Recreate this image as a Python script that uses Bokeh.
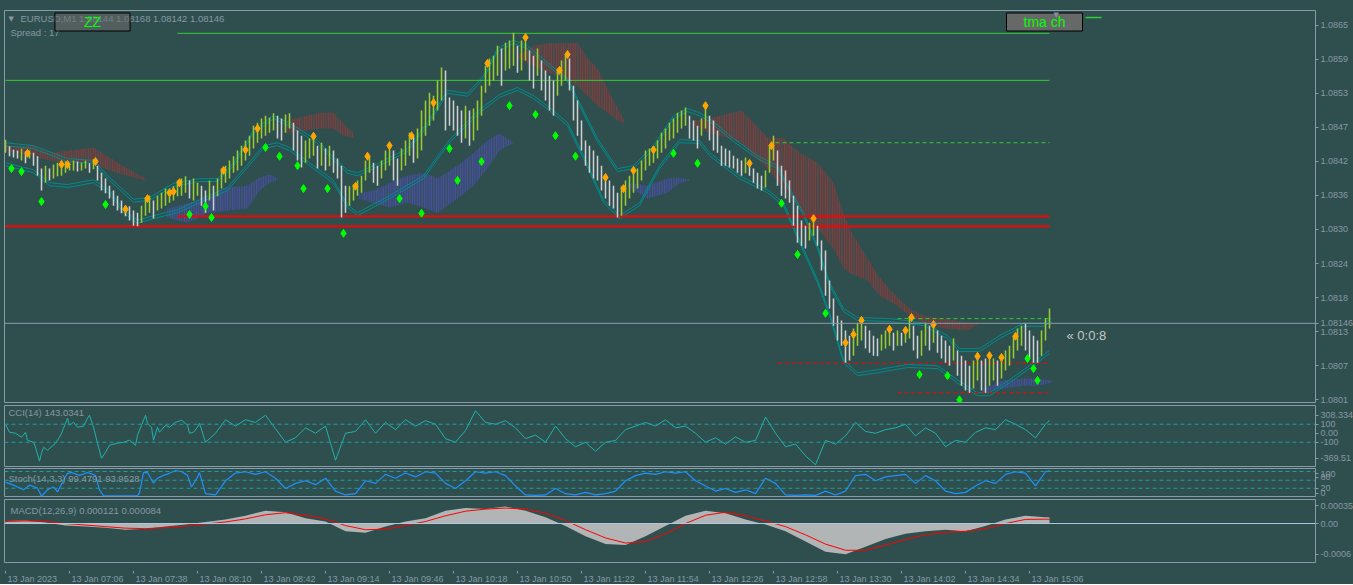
from bokeh.plotting import figure
from bokeh.layouts import column
from bokeh.models import Range1d, FixedTicker, Label, Span, ColumnDataSource
from bokeh.embed import file_html
from bokeh.resources import INLINE
from bokeh.core.properties import value

# ---------------- data ----------------
symbol_title = "EURUSD,M1  1.08144 1.08168 1.08142 1.08146"
spread_text = "Spread : 17"
last_price = 1.08146
timer_text = "\u00ab 0:0:8"

# time index = minutes since 06:34 (13 Jan 2023)
time_ticks = [0, 32, 64, 96, 128, 160, 192, 224, 256, 288, 320, 352, 384, 416, 448, 480, 512]
time_labels = ["13 Jan 2023", "13 Jan 07:06", "13 Jan 07:38", "13 Jan 08:10", "13 Jan 08:42",
               "13 Jan 09:14", "13 Jan 09:46", "13 Jan 10:18", "13 Jan 10:50", "13 Jan 11:22",
               "13 Jan 11:54", "13 Jan 12:26", "13 Jan 12:58", "13 Jan 13:30", "13 Jan 14:02",
               "13 Jan 14:34", "13 Jan 15:06"]

price_ticks = [1.08653, 1.085951, 1.085372, 1.084793, 1.084214, 1.083635, 1.083056,
               1.082477, 1.081898, 1.081319, 1.08074, 1.080161]
price_tick_labels = ["1.0865", "1.0859", "1.0853", "1.0847", "1.0842", "1.0836", "1.0830",
                     "1.0824", "1.0818", "1.0813", "1.0807", "1.0801"]

# price bars (one every 2 minutes)
bar_high = [
1.08458,1.08447,1.08441,1.08440,1.08443,1.08438,1.08440,1.08436,1.08430,1.08409,
1.08414,1.08409,1.08416,1.08419,1.08423,1.08421,1.08419,1.08423,1.08421,1.08419,
1.08423,1.08418,1.08425,1.08414,1.08402,1.08392,1.08380,1.08372,1.08363,1.08355,
1.08346,1.08345,1.08338,1.08334,1.08346,1.08360,1.08363,1.08355,1.08363,1.08368,
1.08375,1.08372,1.08379,1.08389,1.08392,1.08396,1.08389,1.08392,1.08385,1.08380,
1.08372,1.08389,1.08380,1.08392,1.08409,1.08414,1.08423,1.08430,1.08440,1.08448,
1.08457,1.08465,1.08482,1.08487,1.08494,1.08499,1.08496,1.08503,1.08499,1.08494,
1.08501,1.08503,1.08487,1.08474,1.08465,1.08457,1.08460,1.08464,1.08448,1.08453,
1.08443,1.08448,1.08440,1.08426,1.08414,1.08380,1.08379,1.08382,1.08389,1.08397,
1.08423,1.08430,1.08419,1.08414,1.08423,1.08440,1.08452,1.08440,1.08426,1.08443,
1.08457,1.08470,1.08465,1.08477,1.08508,1.08525,1.08538,1.08533,1.08559,1.08581,
1.08576,1.08530,1.08525,1.08516,1.08508,1.08516,1.08508,1.08511,1.08525,1.08550,
1.08584,1.08596,1.08601,1.08618,1.08613,1.08623,1.08627,1.08640,1.08618,1.08627,
1.08632,1.08610,1.08601,1.08613,1.08593,1.08576,1.08567,1.08559,1.08579,1.08593,
1.08603,1.08596,1.08550,1.08525,1.08491,1.08457,1.08448,1.08440,1.08431,1.08414,
1.08397,1.08389,1.08380,1.08368,1.08379,1.08389,1.08397,1.08406,1.08409,1.08423,
1.08440,1.08443,1.08447,1.08457,1.08470,1.08477,1.08487,1.08494,1.08504,1.08508,
1.08513,1.08499,1.08491,1.08482,1.08494,1.08516,1.08499,1.08491,1.08474,1.08448,
1.08443,1.08440,1.08431,1.08426,1.08423,1.08428,1.08419,1.08409,1.08402,1.08397,
1.08406,1.08448,1.08465,1.08440,1.08414,1.08406,1.08389,1.08363,1.08346,1.08321,
1.08312,1.08317,1.08324,1.08312,1.08287,1.08270,1.08219,1.08188,1.08159,1.08151,
1.08134,1.08125,1.08137,1.08147,1.08151,1.08142,1.08134,1.08125,1.08120,1.08127,
1.08134,1.08137,1.08130,1.08134,1.08130,1.08137,1.08158,1.08142,1.08125,1.08134,
1.08147,1.08142,1.08147,1.08134,1.08125,1.08117,1.08108,1.08120,1.08100,1.08091,
1.08083,1.08074,1.08083,1.08091,1.08083,1.08086,1.08091,1.08086,1.08083,1.08090,
1.08100,1.08108,1.08125,1.08137,1.08142,1.08146,1.08134,1.08125,1.08117,1.08134,
1.08154,1.08171]
bar_low = [
1.08436,1.08430,1.08428,1.08426,1.08423,1.08418,1.08426,1.08414,1.08397,1.08372,
1.08385,1.08389,1.08392,1.08396,1.08397,1.08402,1.08406,1.08406,1.08404,1.08406,
1.08409,1.08402,1.08408,1.08389,1.08372,1.08367,1.08358,1.08346,1.08338,1.08333,
1.08328,1.08321,1.08312,1.08311,1.08317,1.08329,1.08334,1.08324,1.08338,1.08341,
1.08346,1.08351,1.08355,1.08362,1.08363,1.08368,1.08358,1.08355,1.08363,1.08346,
1.08334,1.08355,1.08338,1.08362,1.08375,1.08385,1.08392,1.08402,1.08406,1.08414,
1.08423,1.08431,1.08443,1.08453,1.08460,1.08465,1.08470,1.08474,1.08460,1.08457,
1.08470,1.08477,1.08440,1.08423,1.08411,1.08419,1.08426,1.08431,1.08409,1.08414,
1.08406,1.08413,1.08402,1.08392,1.08326,1.08334,1.08346,1.08355,1.08363,1.08368,
1.08389,1.08402,1.08385,1.08380,1.08392,1.08406,1.08414,1.08389,1.08380,1.08406,
1.08414,1.08431,1.08419,1.08426,1.08440,1.08465,1.08482,1.08491,1.08508,1.08525,
1.08474,1.08482,1.08474,1.08465,1.08453,1.08460,1.08448,1.08457,1.08474,1.08499,
1.08538,1.08550,1.08559,1.08567,1.08550,1.08576,1.08579,1.08584,1.08572,1.08576,
1.08593,1.08559,1.08545,1.08567,1.08542,1.08525,1.08508,1.08499,1.08533,1.08550,
1.08559,1.08542,1.08491,1.08465,1.08440,1.08414,1.08402,1.08392,1.08389,1.08372,
1.08358,1.08346,1.08341,1.08326,1.08329,1.08346,1.08358,1.08368,1.08375,1.08389,
1.08406,1.08414,1.08419,1.08426,1.08436,1.08443,1.08457,1.08460,1.08470,1.08477,
1.08482,1.08460,1.08457,1.08443,1.08465,1.08477,1.08457,1.08440,1.08436,1.08414,
1.08414,1.08411,1.08409,1.08402,1.08397,1.08401,1.08397,1.08385,1.08375,1.08372,
1.08377,1.08402,1.08423,1.08380,1.08363,1.08358,1.08351,1.08312,1.08283,1.08278,
1.08273,1.08287,1.08295,1.08278,1.08236,1.08193,1.08171,1.08142,1.08117,1.08108,
1.08079,1.08083,1.08091,1.08108,1.08117,1.08103,1.08096,1.08091,1.08090,1.08100,
1.08103,1.08108,1.08100,1.08108,1.08108,1.08113,1.08120,1.08100,1.08086,1.08091,
1.08108,1.08100,1.08113,1.08096,1.08086,1.08079,1.08074,1.08083,1.08057,1.08040,
1.08032,1.08028,1.08035,1.08049,1.08032,1.08028,1.08040,1.08049,1.08040,1.08052,
1.08066,1.08074,1.08086,1.08100,1.08108,1.08100,1.08086,1.08079,1.08079,1.08091,
1.08117,1.08137]
bar_t = [2 * k for k in range(len(bar_high))]

# TMA channel (upper / lower band)
tma_up_t = [0,14,31,44,52,64,72,84,97,106,114,124,134,142,156,164,171,176,184,201,211,221,231,239,246,254,261,271,281,287,
            296,306,314,324,334,341,347,352,364,376,386,392,399,406,412,419,426,442,459,471,477,487,497,509,519,523]
tma_up = [1.08453,1.08448,1.08426,1.08423,1.08394,1.08357,1.08360,1.08384,1.08392,1.08392,1.08418,1.08474,1.08499,1.08486,1.08457,
          1.08428,1.08406,1.08402,1.08414,1.08443,1.08487,1.08542,1.08537,1.08567,1.08613,1.08627,1.08618,1.08589,1.08562,1.08521,
          1.08460,1.08409,1.08414,1.08448,1.08499,1.08511,1.08504,1.08494,1.08460,1.08431,1.08414,1.08375,1.08334,1.08278,1.08215,
          1.08171,1.08156,1.08154,1.08147,1.08125,1.08103,1.08103,1.08125,1.08146,1.08146,1.08154]
tma_dn_t = [0,14,22,31,44,52,59,66,74,86,97,111,121,129,136,142,152,164,171,176,192,209,222,237,247,256,264,272,281,289,
            299,307,317,327,337,347,352,367,381,389,397,406,412,419,426,436,451,466,476,486,492,502,514,522]
tma_dn = [1.08414,1.08402,1.08380,1.08377,1.08385,1.08367,1.08334,1.08316,1.08324,1.08334,1.08351,1.08372,1.08411,1.08443,1.08448,
          1.08440,1.08414,1.08384,1.08343,1.08329,1.08358,1.08392,1.08453,1.08504,1.08530,1.08542,1.08528,1.08508,1.08482,1.08426,
          1.08351,1.08324,1.08346,1.08409,1.08453,1.08452,1.08431,1.08392,1.08368,1.08346,1.08283,1.08215,1.08159,1.08079,1.08057,
          1.08062,1.08071,1.08069,1.08045,1.08023,1.08023,1.08045,1.08074,1.08095]

# clouds (time, top, bottom)
red_clouds = [
    ([0,14,22,32,44,52,61,70],
     [1.08448,1.08448,1.08436,1.08440,1.08445,1.08428,1.08409,1.08392],
     [1.08440,1.08430,1.08423,1.08419,1.08418,1.08406,1.08397,1.08389]),
    ([141,157,164,169,174],
     [1.08491,1.08504,1.08504,1.08486,1.08469],
     [1.08469,1.08477,1.08477,1.08465,1.08462]),
    ([256,264,271,277,286,291,296,301,306,310],
     [1.08601,1.08618,1.08622,1.08622,1.08623,1.08596,1.08579,1.08545,1.08513,1.08487],
     [1.08596,1.08584,1.08572,1.08567,1.08550,1.08533,1.08516,1.08504,1.08491,1.08486]),
    ([344,352,362,368,374,381,389,397,406,414,419,422,431,437,446,452,459,469,481,487],
     [1.08491,1.08494,1.08503,1.08508,1.08487,1.08462,1.08460,1.08436,1.08419,1.08385,
      1.08333,1.08307,1.08256,1.08224,1.08190,1.08171,1.08159,1.08154,1.08147,1.08147],
     [1.08482,1.08470,1.08460,1.08453,1.08431,1.08409,1.08375,1.08341,1.08307,1.08273,
      1.08239,1.08232,1.08219,1.08193,1.08176,1.08159,1.08147,1.08137,1.08134,1.08146]),
]
blue_clouds = [
    ([81,91,101,111,121,127,132,136],
     [1.08341,1.08350,1.08360,1.08377,1.08380,1.08394,1.08399,1.08392],
     [1.08326,1.08317,1.08333,1.08338,1.08341,1.08372,1.08385,1.08390]),
    ([177,184,192,201,209,216,226,234,241,247,254],
     [1.08367,1.08372,1.08385,1.08397,1.08402,1.08392,1.08414,1.08435,1.08457,1.08469,1.08453],
     [1.08358,1.08350,1.08343,1.08351,1.08343,1.08334,1.08358,1.08380,1.08409,1.08440,1.08452]),
    ([311,321,331,337,342],
     [1.08385,1.08380,1.08392,1.08394,1.08390],
     [1.08380,1.08358,1.08368,1.08384,1.08389]),
    ([489,499,509,516,523],
     [1.08035,1.08049,1.08052,1.08052,1.08049],
     [1.08028,1.08035,1.08040,1.08040,1.08045]),
]

# fractal diamonds
up_marks_t = [11,28,31,45,60,71,82,84,87,109,120,126,154,175,181,192,203,214,241,260,277,281,300,309,314,324,350,372,383,404,
              420,424,428,442,450,453,464,486,492,498,505]
up_marks_p = [1.08435,1.08416,1.08416,1.08421,1.08340,1.08358,1.08368,1.08370,1.08385,1.08406,1.08441,1.08477,1.08464,1.08379,
              1.08430,1.08448,1.08465,1.08521,1.08588,1.08632,1.08576,1.08603,1.08394,1.08375,1.08406,1.08441,1.08516,1.08418,
              1.08448,1.08324,1.08113,1.08127,1.08151,1.08136,1.08134,1.08156,1.08144,1.08090,1.08091,1.08088,1.08124]
dn_marks_t = [3,8,18,50,92,100,103,130,137,146,149,161,169,197,208,222,226,238,252,265,275,285,334,346,388,396,410,457,471,477,
              511,514,516]
dn_marks_p = [1.08409,1.08404,1.08353,1.08348,1.08331,1.08345,1.08326,1.08445,1.08430,1.08414,1.08375,1.08375,1.08299,1.08358,
              1.08333,1.08443,1.08389,1.08421,1.08516,1.08501,1.08465,1.08430,1.08435,1.08418,1.08350,1.08263,1.08163,1.08059,
              1.08057,1.08016,1.08086,1.08069,1.08049]

# horizontal level objects
level_price = [1.08666, 1.08639, 1.08559, 1.08453, 1.08328, 1.08311, 1.08154, 1.08078, 1.08028]
level_from = [540, 86, 0, 385, 86, 0, 446, 386, 446]
level_to = [548, 522, 522, 522, 522, 522, 522, 522, 522]

# CCI(14)
cci_t = ([0,2,5,8,10,11,14,15,17,18,19,21,25,27,28,29,31,32,34,36,39,41,42,44,46,48,50,52,56,59,
          62,65,66,68,70,71,73,74,76,77,80,82,85,88,91,92,94,96,97]
         + list(range(100, 521, 5)) + [522])
cci = [100,11,0,-44,11,-78,-100,-155,-311,-222, -155,-189,-111,-44,0,55,166,89,122,67,
       78,166,200,67,-111,-278,-211,-133,-111,-100, -78,-133,-22,89,200,111,67,-78,67,11,
       89,67,122,144,89,0,11,67,111,
       -100,0,150,80,150,120,200,50,-100,-50, 60,0,80,-300,0,20,150,0,120,40,
       150,80,140,100,-60,-100,30,250,120,100, 140,60,-60,-20,-100,80,-60,-150,-100,-200,
       -100,-80,40,80,120,80,150,60,80,0, -100,-50,-120,-40,-100,-80,180,0,-150,-120,
       -250,-350,-80,-120,-30,120,20,0,40,60, 100,-30,60,0,-150,-80,-100,10,60,40,
       150,100,40,-50,100, 143.0341]
cci_levels = [100, -100]
cci_ticks = [200, 100, 0, -100, -278]
cci_tick_labels = ["308.334", "100", "0.00", "-100", "-369.51"]

# Stochastic(14,3,3)
sto_t = ([0,4,9,12,16,18,21,24,26,29,31,33,37,41,45,47,49,52,57,62,66,67,69,71,74,76,79,82,85,88,91,93,96,97]
         + list(range(100, 521, 5)) + [522])
sto = [55,43,25,43,32,0,25,36,17,62, 89,92,81,92,81,25,2,2,2,2, 2,13,92,92,51,70,81,89,100,96, 81,36,74,92,
       10,5,60,90,95,85,95,70,30,50, 60,45,70,20,5,10,60,50,85,70,
       90,75,95,90,50,30,60,95,90,95, 80,40,5,3,5,30,10,5,15,5,
       10,20,60,80,90,85,95,90,95,60, 40,20,30,15,25,10,70,50,5,3,
       5,3,20,5,20,80,85,60,75,80, 85,50,80,60,20,10,15,40,60,50,
       85,95,90,40,95, 99.4791]
sto_levels = [96, 62, 31]
sto_ticks = [88, 73, 31, 11.5]
sto_tick_labels = ["100", "80", "20", "0"]

# MACD(12,26,9)  (values in 1e-6)
macd_t = list(range(0, 521, 10)) + [522]
macd = [50,60,20,-40,-60,-80,-120,-100,-60,-20, 30,80,150,250,220,100,40,-150,-180,-60,
        40,100,250,300,280,330,250,120,-50,-250, -400,-420,-250,-50,150,250,200,80,-20,-150,
        -350,-550,-600,-450,-300,-200,-150,-120,-150,-50, 80,150,121, 121]
macd_sig = [40,50,40,0,-30,-60,-90,-100,-80,-50, -10,30,90,170,210,160,90,-40,-120,-110,
            -40,40,150,240,280,300,280,200,60,-120, -280,-380,-350,-200,0,160,220,150,50,-60,
            -220,-400,-520,-520,-420,-310,-220,-170,-150,-100, 0,80,84, 84]

# ---------------- styling ----------------
BG = "#2F4F4F"
EDGE = "#8A99A7"
TXT = "#8797A3"
FONT = "Liberation Sans"
FRAME_W = 1311
LEFT = 4
xr = Range1d(-0.5, -0.5 + FRAME_W / 2)


def pane(frame_h, top, bottom, y0, y1):
    p = figure(frame_width=FRAME_W, frame_height=frame_h, x_range=xr, y_range=Range1d(y0, y1),
               output_backend="svg", toolbar_location=None, x_axis_location=None,
               y_axis_location="right", min_border_left=LEFT, min_border_right=0,
               min_border_top=top, min_border_bottom=bottom,
               background_fill_color=BG, border_fill_color=BG, outline_line_color=EDGE)
    p.grid.visible = False
    ax = p.yaxis[0]
    ax.axis_line_color = None
    ax.major_tick_line_color = EDGE
    ax.major_tick_in = 0
    ax.major_tick_out = 3
    ax.minor_tick_line_color = None
    ax.major_label_text_color = TXT
    ax.major_label_text_font = FONT
    ax.major_label_text_font_size = "9px"
    ax.major_label_standoff = 2
    return p


def text_label(p, x, y, txt, color=TXT, size="9.5px", font=FONT, align="left", **kw):
    p.add_layout(Label(x=x, y=y, x_units="screen", y_units="screen", text=txt,
                       text_color=color, text_font_size=size, text_font=font,
                       text_align=align, text_baseline="middle", **kw))


# ---------------- main price pane ----------------
MAIN_H = 392
pm = pane(MAIN_H, 10, 3, 1.080114, 1.086778)
main_ticks = price_ticks + [last_price]
pm.yaxis[0].ticker = FixedTicker(ticks=main_ticks)
pm.yaxis[0].major_label_overrides = dict(zip(main_ticks, price_tick_labels + ["1.08146"]))

for t, top, bot in red_clouds:
    pm.varea(x=t, y1=bot, y2=top, fill_color="#8B3A3A", fill_alpha=0.25, hatch_pattern="vertical_line",
             hatch_color="#8B3A3A", hatch_scale=2.4, hatch_weight=1.3)
for t, top, bot in blue_clouds:
    pm.varea(x=t, y1=bot, y2=top, fill_color="#4A4FA8", fill_alpha=0.25, hatch_pattern="vertical_line",
             hatch_color="#4A4FA8", hatch_scale=2.4, hatch_weight=1.3)

# TMA bands (double lines)
band_gap = 0.00005
pm.line(tma_up_t, tma_up, color="#008B8B", line_width=1)
pm.line(tma_up_t, [v - band_gap for v in tma_up], color="#008B8B", line_width=1)
pm.line(tma_dn_t, tma_dn, color="#008B8B", line_width=1)
pm.line(tma_dn_t, [v + band_gap for v in tma_dn], color="#008B8B", line_width=1)

# levels
lv_color = ["#32CD32", "#32CD32", "#32CD32", "#32CD32", "#FF0000", "#FF0000", "#32CD32", "#FF0000", "#FF0000"]
lv_dash = ["solid", "solid", "solid", "4 3", "solid", "solid", "4 3", "4 3", "4 3"]
lv_width = [1.5, 1, 1, 1, 2, 2, 1, 1, 1]
for pr, a, b, c, d, w in zip(level_price, level_from, level_to, lv_color, lv_dash, lv_width):
    pm.segment(x0=[a], y0=[pr], x1=[b], y1=[pr], line_color=c, line_dash=d, line_width=w)

pm.add_layout(Span(location=last_price, dimension="width", line_color="#8C9BA8", line_width=1))

# bars
mids = [(h + l) / 2 for h, l in zip(bar_high, bar_low)]
bar_col = ["#9ACD32" if i == 0 or mids[i] >= mids[i - 1] else "#D0D0D0" for i in range(len(mids))]
src = ColumnDataSource(dict(t=bar_t, h=bar_high, l=bar_low, c=bar_col))
pm.segment(x0="t", y0="l", x1="t", y1="h", line_color="c", line_width=1.5, source=src)

pm.scatter(up_marks_t, up_marks_p, marker="diamond", size=8, color="#FFA500")
pm.scatter(dn_marks_t, dn_marks_p, marker="diamond", size=8, color="#00FF00")

text_label(pm, 4, MAIN_H - 8, "\u25bc", size="7px", font="DejaVu Sans")
text_label(pm, 16, MAIN_H - 8, symbol_title)
text_label(pm, 6, MAIN_H - 22, spread_text)
text_label(pm, 88, MAIN_H - 11.5, "ZZ", color="#00FF00", size="14px", align="center",
           background_fill_color="#6A6A6A", background_fill_alpha=0.6,
           border_line_color="black", padding=dict(left=29, right=29, top=1, bottom=1))
text_label(pm, 1040, MAIN_H - 11.5, "tma ch", color="#00FF00", size="14px", align="center",
           background_fill_color="#6A6A6A", background_fill_alpha=0.95,
           border_line_color="black", padding=dict(left=17, right=17, top=1, bottom=1))
text_label(pm, 1049, MAIN_H - 4, "\u25bc", color="#8090A0", size="7px", font="DejaVu Sans")
text_label(pm, 1062, 67, timer_text, color="#C8C8C8", size="13px")

# ---------------- CCI pane ----------------
CCI_H = 61
pc = pane(CCI_H, 0, 2, -369.51, 308.334)
pc.yaxis[0].ticker = FixedTicker(ticks=cci_ticks)
pc.yaxis[0].major_label_overrides = dict(zip(cci_ticks, cci_tick_labels))
for lv in cci_levels:
    pc.add_layout(Span(location=lv, dimension="width", line_color="#1E9E9E", line_dash="4 3", line_width=1))
pc.line(cci_t, cci, color="#20B2AA", line_width=1)
text_label(pc, 4, CCI_H - 7, "CCI(14) 143.0341")

# ---------------- Stochastic pane ----------------
STO_H = 28
ps = pane(STO_H, 0, 2, -1, 107.7)
ps.yaxis[0].ticker = FixedTicker(ticks=sto_ticks)
ps.yaxis[0].major_label_overrides = dict(zip(sto_ticks, sto_tick_labels))
for lv in sto_levels:
    ps.add_layout(Span(location=lv, dimension="width", line_color="#1E9E9E", line_dash="4 3", line_width=1))
ps.line(sto_t, sto, color="#1E90FF", line_width=1.2)
text_label(ps, 4, STO_H - 10, "Stoch(14,3,3) 99.4791 93.9528")

# ---------------- MACD pane ----------------
MACD_H = 63
pd_ = pane(MACD_H, 1, 2, -0.000758, 0.000467)
macd_ticks = [0.00035, 0.0, -0.0006]
pd_.yaxis[0].ticker = FixedTicker(ticks=macd_ticks)
pd_.yaxis[0].major_label_overrides = {0.00035: "0.00035", 0.0: "0.00", -0.0006: "-0.0006"}
macd_v = [v * 1e-6 for v in macd]
sig_v = [v * 1e-6 for v in macd_sig]
pd_.varea(x=macd_t, y1=[0] * len(macd_t), y2=macd_v, fill_color="#C0C0C0", fill_alpha=0.9)
pd_.add_layout(Span(location=0, dimension="width", line_color="#B0C8E0", line_width=1))
pd_.line(macd_t, sig_v, color="#FF0000", line_width=1)
text_label(pd_, 6, MACD_H - 11, "MACD(12,26,9) 0.000121 0.000084")

# ---------------- empty pane + time axis strip ----------------
pe = figure(frame_width=FRAME_W, frame_height=6, x_range=xr, y_range=Range1d(0, 1),
            output_backend="svg", toolbar_location=None, x_axis_location=None, y_axis_location=None,
            min_border_left=LEFT, min_border_right=0, min_border_top=0, min_border_bottom=0,
            background_fill_color=BG, border_fill_color=BG, outline_line_color=EDGE)
pe.grid.visible = False

STRIP_H = 14
pt = figure(frame_width=FRAME_W, frame_height=STRIP_H, x_range=xr, y_range=Range1d(0, STRIP_H),
            output_backend="svg", toolbar_location=None, x_axis_location=None, y_axis_location=None,
            min_border_left=LEFT, min_border_right=0, min_border_top=0, min_border_bottom=0,
            background_fill_color=BG, border_fill_color=BG, outline_line_color=None)
pt.grid.visible = False
pt.segment(x0=time_ticks, y0=[STRIP_H] * len(time_ticks), x1=time_ticks, y1=[STRIP_H - 3] * len(time_ticks),
           line_color=EDGE, line_width=1)
pt.text(x=time_ticks, y=[5.5] * len(time_ticks), text=time_labels, x_offset=2,
        text_align="left", text_baseline="middle", text_font=value(FONT),
        text_font_size="9px", text_color=TXT)

layout = column(pm, pc, ps, pd_, pe, pt, spacing=0, styles={"background-color": BG})
open("out.html", "w").write(file_html(layout, INLINE))
